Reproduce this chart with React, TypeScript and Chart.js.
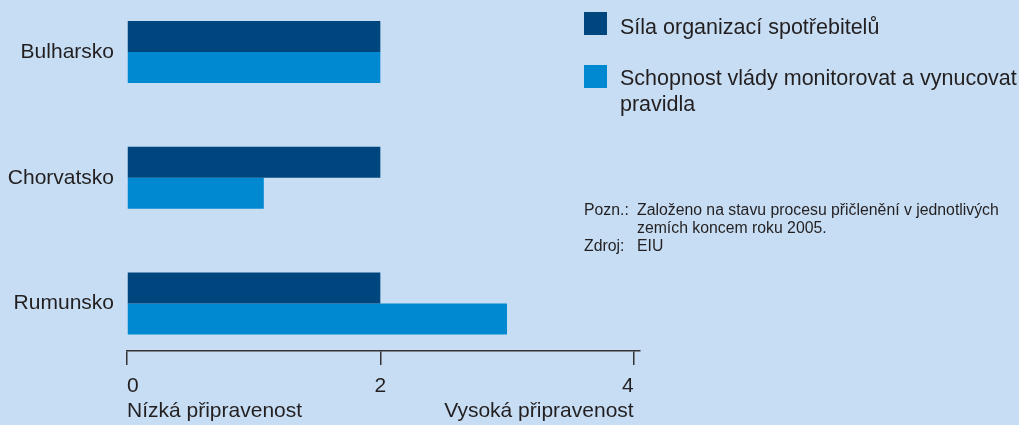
import React, { useEffect, useRef } from "react";
import { Chart, registerables } from "chart.js";

Chart.register(...registerables);

const categories = ["Bulharsko", "Chorvatsko", "Rumunsko"];
const consumerOrgStrength = [2, 2, 2];
const govEnforcement = [2, 1.08, 3];
const seriesNames = [
  "Síla organizací spotřebitelů",
  "Schopnost vlády monitorovat a vynucovat pravidla",
];
const xTickValues = [0, 2, 4];
const xTickLabels = ["0", "2", "4"];
const xScaleEndLabels = ["Nízká připravenost", "Vysoká připravenost"];

const BG = "#c6ddf3";
const DARK = "#00467e";
const LIGHT = "#0089d1";
const TEXT = "#231f20";
const FONT = "'Liberation Sans', Arial, sans-serif";

export default function App() {
  const ref = useRef<HTMLCanvasElement | null>(null);

  useEffect(() => {
    if (!ref.current) return;
    const chart = new Chart(ref.current, {
      type: "bar",
      data: {
        datasets: [
          {
            label: seriesNames[0],
            data: consumerOrgStrength.map((v, i) => ({ x: v, y: i })),
            backgroundColor: DARK,
            borderWidth: 0,
          },
          {
            label: seriesNames[1],
            data: govEnforcement.map((v, i) => ({ x: v, y: i })),
            backgroundColor: LIGHT,
            borderWidth: 0,
          },
        ],
      },
      options: {
        indexAxis: "y",
        responsive: false,
        animation: false,
        events: [],
        datasets: { bar: { categoryPercentage: 0.493, barPercentage: 1 } },
        layout: { padding: { left: 0, right: 379, top: 0, bottom: 0 } },
        plugins: { legend: { display: false }, tooltip: { enabled: false } },
        scales: {
          y: {
            type: "linear",
            reverse: true,
            offset: false,
            min: -0.4135,
            max: 2.3777,
            grid: { display: false, drawTicks: false, offset: false },
            border: { display: false },
            afterBuildTicks: (scale: any) => {
              scale.ticks = categories.map((_, i) => ({ value: i }));
            },
            afterFit: (scale: any) => {
              scale.width = 127;
              scale.paddingTop = 0;
              scale.paddingBottom = 0;
            },
            ticks: {
              padding: 13,
              color: TEXT,
              font: { family: FONT, size: 21 },
              callback: (v: any) => categories[Number(v)] ?? "",
            },
          },
          x: {
            type: "linear",
            min: 0,
            max: 4.05,
            border: { display: true, color: "#333333", width: 1.5 },
            grid: {
              drawOnChartArea: false,
              drawTicks: true,
              tickLength: 14,
              color: "#333333",
              lineWidth: 1.5,
            },
            afterBuildTicks: (scale: any) => {
              scale.ticks = xTickValues.map((v) => ({ value: v }));
            },
            afterFit: (scale: any) => {
              scale.height = 74;
              scale.paddingLeft = 0;
              scale.paddingRight = 0;
            },
            ticks: {
              align: "inner",
              padding: 9,
              maxRotation: 0,
              autoSkip: false,
              color: TEXT,
              font: { family: FONT, size: 21, lineHeight: 1.19 },
              callback: (_v: any, i: number) => {
                if (i === 0) return [xTickLabels[0], xScaleEndLabels[0]];
                if (i === xTickValues.length - 1)
                  return [xTickLabels[i], xScaleEndLabels[1]];
                return xTickLabels[i];
              },
            },
          },
        },
      },
    });
    return () => chart.destroy();
  }, []);

  const legendText: React.CSSProperties = {
    position: "absolute",
    left: 620,
    fontFamily: FONT,
    fontSize: 21.5,
    lineHeight: "26px",
    color: TEXT,
    whiteSpace: "nowrap",
  };
  const note: React.CSSProperties = {
    position: "absolute",
    fontFamily: FONT,
    fontSize: 15.8,
    lineHeight: "18px",
    color: TEXT,
    whiteSpace: "nowrap",
  };

  return (
    <div
      style={{
        position: "absolute",
        left: 0,
        top: 0,
        width: 1019,
        height: 425,
        background: BG,
        overflow: "hidden",
      }}
    >
      <canvas ref={ref} width={1019} height={425} style={{ position: "absolute", left: 0, top: 0 }} />
      <div style={{ position: "absolute", left: 584, top: 12, width: 23, height: 23, background: DARK }} />
      <div style={{ ...legendText, top: 14 }}>{seriesNames[0]}</div>
      <div style={{ position: "absolute", left: 584, top: 65, width: 23, height: 23, background: LIGHT }} />
      <div style={{ ...legendText, top: 65 }}>
        Schopnost vlády monitorovat a vynucovat
        <br />
        pravidla
      </div>
      <div style={{ ...note, left: 584, top: 201 }}>Pozn.:</div>
      <div style={{ ...note, left: 637, top: 201 }}>
        Založeno na stavu procesu přičlenění v jednotlivých
        <br />
        zemích koncem roku 2005.
      </div>
      <div style={{ ...note, left: 584, top: 237 }}>Zdroj:</div>
      <div style={{ ...note, left: 637, top: 237 }}>EIU</div>
    </div>
  );
}
